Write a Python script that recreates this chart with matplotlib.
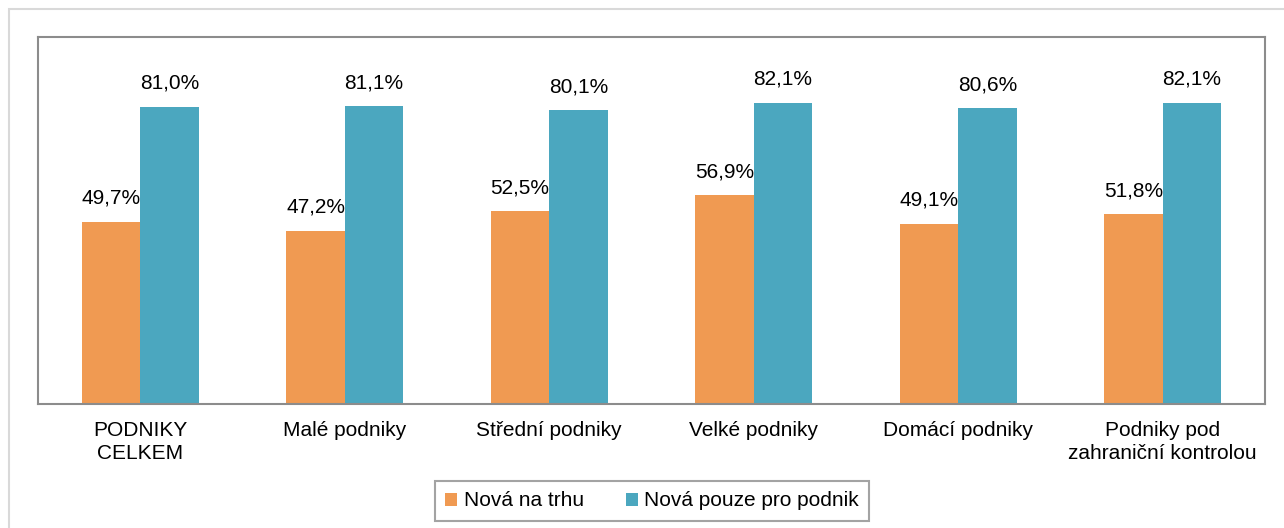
import matplotlib.pyplot as plt
from matplotlib.patches import Rectangle
import numpy as np

plt.rcParams['font.family'] = ['Liberation Sans', 'DejaVu Sans']

kategorie = ['PODNIKY\nCELKEM', 'Malé podniky', 'Střední podniky', 'Velké podniky',
             'Domácí podniky', 'Podniky pod\nzahraniční kontrolou']
nova_na_trhu = [49.7, 47.2, 52.5, 56.9, 49.1, 51.8]
nova_pro_podnik = [81.0, 81.1, 80.1, 82.1, 80.6, 82.1]
serie = ['Nová na trhu', 'Nová pouze pro podnik']

fig = plt.figure(figsize=(12.84, 5.28), dpi=100)
# vnejsi ramecek grafu
fig.patches.append(Rectangle((9 / 1284, -0.1), 1.2, 1 - 9 / 528 + 0.1, transform=fig.transFigure,
                             fill=False, edgecolor='#d9d9d9', linewidth=1.5))
ax = fig.add_axes([38 / 1284, 1 - 404 / 528, (1265 - 38) / 1284, (404 - 37) / 528])

x = np.arange(len(kategorie))
w = 0.285
b1 = ax.bar(x - w / 2, nova_na_trhu, w, color='#F09A52', label=serie[0])
b2 = ax.bar(x + w / 2, nova_pro_podnik, w, color='#4BA7BF', label=serie[1])

for bars in (b1, b2):
    for r in bars:
        ax.annotate(f'{r.get_height():.1f}%'.replace('.', ','),
                    (r.get_x() + r.get_width() / 2, r.get_height()),
                    xytext=(0, 10), textcoords='offset points',
                    ha='center', va='bottom', fontsize=15)

ax.set_xlim(-0.5, len(kategorie) - 0.5)
ax.set_ylim(0, 100)
ax.set_yticks([])
ax.set_xticks(x)
ax.set_xticklabels(kategorie, fontsize=15, linespacing=1.3)
ax.tick_params(axis='x', length=0, pad=12)
for s in ax.spines.values():
    s.set_color('#8c8c8c')
    s.set_linewidth(1.5)

leg = fig.legend(loc='center', bbox_to_anchor=(652 / 1284, 1 - 501 / 528), ncol=2,
                 fontsize=15, frameon=True, fancybox=False, handlelength=0.6,
                 handleheight=0.6, handletextpad=0.3, columnspacing=2.0,
                 borderpad=0.5, borderaxespad=0)
leg.get_frame().set_edgecolor('#8c8c8c')
leg.get_frame().set_linewidth(1.5)

plt.savefig('out.png', dpi=100)
